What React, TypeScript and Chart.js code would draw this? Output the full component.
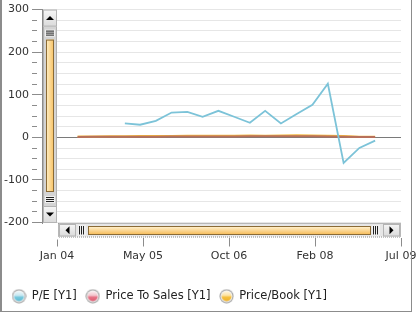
import React, { useEffect, useRef } from 'react';
import { Chart, registerables } from 'chart.js';

Chart.register(...registerables);

// ---- data ----
const PE_DATES = ['2005-01-31','2005-04-30','2005-07-31','2005-10-31','2006-01-31','2006-04-30','2006-07-31','2006-10-31','2007-01-31','2007-04-30','2007-07-31','2007-10-31','2008-01-31','2008-04-30','2008-07-31','2008-10-31','2009-01-31'];
const PE_VALUES = [32.7, 29.7, 39, 58.4, 60, 48.4, 62.4, 48.4, 34.3, 62.4, 32.7, 54.7, 76.4, 126, -59.8, -24.8, -7.7];

const PRICE_DATES = ['2004-04-30','2004-07-31','2004-10-31','2005-01-31','2005-04-30','2005-07-31','2005-10-31','2006-01-31','2006-04-30','2006-07-31','2006-10-31','2007-01-31','2007-04-30','2007-07-31','2007-10-31','2008-01-31','2008-04-30','2008-07-31','2008-10-31','2009-01-31'];
const PS_VALUES = [1.2, 1.3, 1.4, 1.5, 1.7, 1.8, 2.0, 2.1, 2.2, 2.1, 2.3, 2.5, 2.4, 2.7, 2.9, 2.6, 2.2, 1.8, 1.1, 0.9];
const PB_VALUES = [2.2, 2.3, 2.5, 2.8, 3.0, 3.2, 3.5, 3.6, 3.8, 3.7, 3.9, 4.2, 4.0, 4.5, 4.8, 4.3, 3.8, 3.0, 1.8, 1.5];

const SERIES_LABELS = ['P/E [Y1]', 'Price To Sales [Y1]', 'Price/Book [Y1]'];
const X_START = '2004-01-01';
const X_END = '2009-07-01';
const X_TICK_LABELS = ['Jan 04', 'May 05', 'Oct 06', 'Feb 08', 'Jul 09'];
const Y_TICKS = [-200, -175, -150, -125, -100, -75, -50, -25, 0, 25, 50, 75, 100, 125, 150, 175, 200, 225, 250, 275, 300];
const Y_MIN = -235;
const Y_MAX = 300;

const toMs = (d: string) => {
  const [y, m, dd] = d.split('-').map(Number);
  return Date.UTC(y, m - 1, dd);
};

const FONT = 'DejaVu Sans';

function bubble(top: string, mid1: string, mid2: string, bottom: string) {
  const cv = document.createElement('canvas');
  cv.width = 15; cv.height = 15;
  const g = cv.getContext('2d')!;
  g.beginPath(); g.arc(7.5, 7.5, 7, 0, Math.PI * 2); g.fillStyle = '#9c9c9c'; g.fill();
  g.beginPath(); g.arc(7.5, 7.5, 6, 0, Math.PI * 2); g.fillStyle = '#f4f4f4'; g.fill();
  const gr = g.createLinearGradient(0, 2.5, 0, 12.5);
  gr.addColorStop(0, top); gr.addColorStop(0.45, mid1); gr.addColorStop(0.55, mid2); gr.addColorStop(1, bottom);
  g.beginPath(); g.arc(7.5, 7.5, 5, 0, Math.PI * 2); g.fillStyle = gr; g.fill();
  return cv;
}

function button(ctx: CanvasRenderingContext2D, x: number, y: number, w: number, h: number, dir: 'up' | 'down' | 'left' | 'right') {
  const g = ctx.createLinearGradient(x, y, x, y + h);
  g.addColorStop(0, '#f6f6f6'); g.addColorStop(1, '#dadada');
  ctx.fillStyle = g; ctx.fillRect(x, y, w, h);
  ctx.strokeStyle = '#b4b4b4'; ctx.lineWidth = 1;
  ctx.strokeRect(x + 0.5, y + 0.5, w - 1, h - 1);
  const cx = x + w / 2, cy = y + h / 2;
  ctx.fillStyle = '#000';
  ctx.beginPath();
  if (dir === 'up') { ctx.moveTo(cx - 4, cy + 2); ctx.lineTo(cx + 4, cy + 2); ctx.lineTo(cx, cy - 2); }
  if (dir === 'down') { ctx.moveTo(cx - 4, cy - 2); ctx.lineTo(cx + 4, cy - 2); ctx.lineTo(cx, cy + 2); }
  if (dir === 'left') { ctx.moveTo(cx + 2, cy - 4); ctx.lineTo(cx + 2, cy + 4); ctx.lineTo(cx - 2, cy); }
  if (dir === 'right') { ctx.moveTo(cx - 2, cy - 4); ctx.lineTo(cx - 2, cy + 4); ctx.lineTo(cx + 2, cy); }
  ctx.closePath(); ctx.fill();
}

const decor = {
  id: 'decor',
  afterDraw(chart: any) {
    const ctx: CanvasRenderingContext2D = chart.ctx;
    const a = chart.chartArea;
    const ys = chart.scales.y;
    const yBot = Math.round(ys.getPixelForValue(-200));
    ctx.save();
    // corner white
    ctx.fillStyle = '#fff';
    ctx.fillRect(a.left - 1, yBot + 1, 17, a.bottom - yBot + 1);

    // vertical scrollbar
    const vx = a.left + 1, vw = 14, vy0 = a.top, vy1 = yBot;
    ctx.fillStyle = '#d4d4d4';
    ctx.fillRect(vx, vy0, vw, vy1 - vy0);
    ctx.strokeStyle = '#b0b0b0';
    ctx.strokeRect(vx + 0.5, vy0 + 0.5, vw - 1, vy1 - vy0 - 1);
    button(ctx, vx, vy0, vw, 17, 'up');
    button(ctx, vx, vy1 - 17, vw, 17, 'down');
    const grip = (gy: number) => {
      ctx.fillStyle = '#f0f0f0';
      ctx.fillRect(vx + 2, gy, vw - 4, 7);
      ctx.fillStyle = '#222';
      for (let k = 0; k < 3; k++) ctx.fillRect(vx + 3, gy + 1 + k * 2, vw - 6, 1);
    };
    grip(vy0 + 20);
    grip(vy1 - 27);
    {
      const bx = vx + 3, bw = 8, by = vy0 + 30, bh = (vy1 - 31) - by;
      const g = ctx.createLinearGradient(bx, 0, bx + bw, 0);
      g.addColorStop(0, '#fff0c8'); g.addColorStop(1, '#f7c060');
      ctx.fillStyle = g; ctx.fillRect(bx, by, bw, bh);
      ctx.strokeStyle = '#8a6a35'; ctx.strokeRect(bx + 0.5, by + 0.5, bw - 1, bh - 1);
    }

    // horizontal scrollbar
    const hx0 = a.left + 16, hx1 = a.right, hy0 = yBot, hy1 = a.bottom - 1;
    ctx.fillStyle = '#e6e6e6';
    ctx.fillRect(hx0, hy0, hx1 - hx0, hy1 - hy0);
    ctx.setLineDash([1, 1]);
    ctx.strokeStyle = '#888';
    ctx.strokeRect(hx0 + 0.5, hy0 + 0.5, hx1 - hx0 - 1, hy1 - hy0);
    ctx.setLineDash([]);
    button(ctx, hx0 + 1, hy0 + 1, 17, hy1 - hy0 - 1, 'left');
    button(ctx, hx1 - 18, hy0 + 1, 17, hy1 - hy0 - 1, 'right');
    const hgrip = (gx: number) => {
      ctx.fillStyle = '#f0f0f0';
      ctx.fillRect(gx, hy0 + 2, 8, hy1 - hy0 - 3);
      ctx.fillStyle = '#222';
      for (let k = 0; k < 3; k++) ctx.fillRect(gx + 1 + k * 2, hy0 + 3, 1, hy1 - hy0 - 5);
    };
    hgrip(hx0 + 20);
    hgrip(hx1 - 29);
    {
      const bx = hx0 + 30, by = hy0 + 3, bw = (hx1 - 30) - bx, bh = 9;
      const g = ctx.createLinearGradient(0, by, 0, by + bh);
      g.addColorStop(0, '#fff4d6'); g.addColorStop(1, '#f6b850');
      ctx.fillStyle = g; ctx.fillRect(bx, by, bw, bh);
      ctx.strokeStyle = '#8a6a35'; ctx.strokeRect(bx + 0.5, by + 0.5, bw - 1, bh - 1);
    }

    // frame
    ctx.fillStyle = '#8c8c8c';
    ctx.fillRect(0, 0, 2, 312);
    ctx.fillRect(411, 0, 1, 312);
    ctx.fillRect(0, 311, 412, 1);
    ctx.restore();
  },
};

export default function App() {
  const ref = useRef<HTMLCanvasElement>(null);
  useEffect(() => {
    const t0 = toMs(X_START), t1 = toMs(X_END);
    const msPerPx = (t1 - t0) / 344;
    const xMin = t0 - 15 * msPerPx;
    const xTicks = X_TICK_LABELS.map((_, i) => t0 + (i * (t1 - t0)) / (X_TICK_LABELS.length - 1));
    const icons = [
      bubble('#eef8fb', '#c4e6f0', '#7ccbe0', '#5cbad2'),
      bubble('#fbeef0', '#f2c2ca', '#e8788a', '#dc5a70'),
      bubble('#fff6e0', '#fde2a0', '#f6c244', '#eeb028'),
    ];
    Chart.defaults.font.family = FONT;
    Chart.defaults.font.size = 11;
    Chart.defaults.color = '#333';
    const chart = new Chart(ref.current!, {
      type: 'line',
      data: {
        datasets: [
          {
            label: SERIES_LABELS[0],
            data: PE_DATES.map((d, i) => ({ x: toMs(d), y: PE_VALUES[i] })),
            borderColor: '#7cc3d8', backgroundColor: '#7cc3d8', borderWidth: 1.8, pointRadius: 0, tension: 0,
          },
          {
            label: SERIES_LABELS[1],
            data: PRICE_DATES.map((d, i) => ({ x: toMs(d), y: PS_VALUES[i] })),
            borderColor: '#b8705a', backgroundColor: '#e06878', borderWidth: 2, pointRadius: 0, tension: 0,
          },
          {
            label: SERIES_LABELS[2],
            data: PRICE_DATES.map((d, i) => ({ x: toMs(d), y: PB_VALUES[i] })),
            borderColor: '#f2b840', backgroundColor: '#f2b840', borderWidth: 2, pointRadius: 0, tension: 0,
          },
        ],
      },
      options: {
        animation: false,
        responsive: false,
        devicePixelRatio: 1,
        layout: { padding: { left: 3, right: 19, top: 9, bottom: 3 } },
        scales: {
          x: {
            type: 'linear',
            min: xMin,
            max: t1,
            afterBuildTicks: (s: any) => { s.ticks = xTicks.map((v) => ({ value: v })); },
            afterFit: (s: any) => { s.height = 44; },
            ticks: {
              autoSkip: false, maxRotation: 0, padding: 3, color: '#333',
              callback: (_v: any, i: number) => X_TICK_LABELS[i],
            },
            grid: { drawOnChartArea: false, drawTicks: true, tickLength: 9, tickColor: '#8c8c8c' },
            border: { display: false },
          },
          y: {
            min: Y_MIN,
            max: Y_MAX,
            afterBuildTicks: (s: any) => { s.ticks = Y_TICKS.map((v) => ({ value: v })); },
            afterFit: (s: any) => { s.width = 39; },
            ticks: {
              autoSkip: false, padding: 3, color: '#333',
              callback: (v: any) => (Number(v) % 100 === 0 ? String(v) : ''),
            },
            grid: {
              color: (c: any) => (c.tick && c.tick.value === 0 ? '#7a7a7a' : '#e6e6e6'),
              tickColor: '#8c8c8c',
              tickLength: 10,
              tickBorderDash: (c: any) => (c.tick && c.tick.value % 100 === 0 ? [] : [5, 40]),
            },
            border: { display: true, color: '#8c8c8c' },
          },
        },
        plugins: {
          tooltip: { enabled: false },
          legend: {
            position: 'bottom',
            align: 'start',
            labels: {
              usePointStyle: true,
              pointStyleWidth: 14,
              padding: 9,
              color: '#222',
              font: { family: FONT, size: 11.5 },
              generateLabels: (ch: any) =>
                Chart.defaults.plugins.legend.labels.generateLabels(ch).map((l: any, i: number) => ({ ...l, pointStyle: icons[i] })),
            },
          },
        },
      },
      plugins: [decor],
    } as any);
    return () => chart.destroy();
  }, []);
  return (
    <div style={{ position: 'absolute', left: 0, top: 0, width: 420, height: 315, background: '#fff' }}>
      <canvas ref={ref} width={420} height={315} style={{ display: 'block' }} />
    </div>
  );
}
